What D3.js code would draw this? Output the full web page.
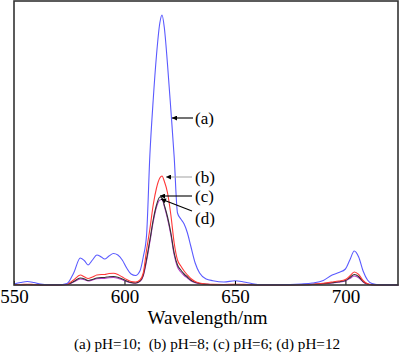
<!DOCTYPE html>
<html><head><meta charset="utf-8">
<script src="https://cdn.jsdelivr.net/npm/d3@7"></script>
<style>
html,body{margin:0;padding:0;background:#fff;}
svg{display:block;font-family:"Liberation Serif","Times New Roman",serif;}
</style></head>
<body>
<svg id="chart" width="400" height="358"></svg>
<script>
const wavelengths = [550,553,556,559,562,566,570,574,577,580,582,583.5,585.5,587.5,589.5,591,593,595,597,599,601,603,605,607,608.5,610,611.5,613,614.5,616,617,618,619.5,621,622.5,624,625.5,627,628.5,630,632,634,637,640,645,650,654,658,662,670,680,685,690,694,697,700,702,704,706,708,710,712,715,720,724];
const seriesA = [1,2.5,3.5,2.5,1,0.3,0.2,1.5,12,27,24,20,25,30,28,26,29,31.5,30,25,17,11,9.5,14,28,50,130,185,230,262,270,258,220,175,128,72,66,61,52,39,22,12,6,4.3,3,4.3,3,1.2,0.3,0.2,1,2,4.5,10,12.5,16,25,34,28,14,5,1.5,0.3,0.1,0];
const seriesB = [0.5,0.5,0.8,0.5,0.2,0.1,0.1,0.8,5,10,8,6.5,8,10,10.5,10.5,11.5,11.7,10.5,8,5.5,3.5,3,5,12,35,56,80,97,107,109,104,92,70,42,25,19,14,10,6.5,3.5,2,1,0.6,0.5,0.8,0.6,0.3,0.1,0.1,0.3,0.8,1.8,3,4,5.5,9,13,10.5,4.5,1.2,0.3,0.1,0,0];
const seriesC = [0.3,0.3,0.5,0.3,0.1,0.05,0.05,0.5,3.5,7,6,4.5,5.5,7,7.5,7.5,8.3,8.5,7.8,6,4,2.5,2,4,10,26,45,65,80,88,87,80,68,52,32,20,15,11,8,5,2.7,1.5,0.8,0.4,0.3,0.5,0.4,0.2,0.05,0.05,0.3,0.6,1.4,2.4,3.2,4.5,7.5,10.5,8.5,3.5,1,0.3,0.05,0,0];
const seriesD = [0.3,0.3,0.4,0.3,0.1,0.05,0.05,0.4,3,6,5.2,4,5,6.2,6.6,6.6,7.3,7.5,6.8,5.2,3.5,2.2,1.8,3.6,9,24,43,63,78,85,85.5,79,66,50,30,18,13,9.5,7,4.3,2.3,1.3,0.7,0.3,0.3,0.4,0.3,0.2,0.05,0.05,0.2,0.5,1.2,2,2.8,4,6.5,9,7.3,3,0.8,0.2,0.05,0,0];
const seriesNames = ["(a)","(b)","(c)","(d)"];
const seriesColors = ["#5a5aff","#ff3838","#333333","#b53ec8"];
const xTicks = [550,600,650,700];
const xLabel = "Wavelength/nm";
const legendText = "(a) pH=10;  (b) pH=8; (c) pH=6; (d) pH=12";

const svg = d3.select("#chart");
const L = 14, R = 398, T = 1, B = 285;
const x = d3.scaleLinear().domain([550, 723.8]).range([L, R]);
const y = d3.scaleLinear().domain([0, 284]).range([B, T]);

const allSeries = [seriesA, seriesB, seriesC, seriesD];
const line = d3.line().x(d => x(d[0])).y(d => y(d[1])).curve(d3.curveMonotoneX);

[3,2,1,0].forEach(i => {
  const pts = wavelengths.map((w, j) => [w, allSeries[i][j]]);
  svg.append("path").attr("d", line(pts)).attr("fill", "none")
     .attr("stroke", seriesColors[i]).attr("stroke-width", 1.1);
});

const ax = svg.append("g").attr("transform", `translate(0,${B})`)
  .call(d3.axisBottom(x).tickValues(xTicks).tickSizeInner(-4).tickSizeOuter(0).tickPadding(4.5).tickFormat(d3.format("d")));
ax.select(".domain").remove();
ax.selectAll(".tick line").attr("stroke", "#000");
ax.selectAll(".tick text").attr("font-size", 19).attr("fill", "#000")
  .attr("font-family", '"Liberation Serif","Times New Roman",serif');

svg.append("rect").attr("x", L).attr("y", T).attr("width", R - L).attr("height", B - T)
  .attr("fill", "none").attr("stroke", "#333").attr("stroke-width", 1.6);

svg.append("text").attr("x", 207.5).attr("y", 324).attr("text-anchor", "middle")
  .attr("font-size", 19).text(xLabel);

svg.append("text").attr("x", 207).attr("y", 349).attr("text-anchor", "middle")
  .attr("font-size", 15.2).attr("xml:space", "preserve").style("white-space", "pre").text(legendText);

const defs = svg.append("defs");
defs.append("marker").attr("id", "arr").attr("viewBox", "0 0 10 10").attr("refX", 10).attr("refY", 5)
  .attr("markerWidth", 7).attr("markerHeight", 5).attr("markerUnits", "userSpaceOnUse").attr("orient", "auto")
  .append("path").attr("d", "M0,0L10,5L0,10Z").attr("fill", "#000");

const annos = [
  {name: seriesNames[0], x1: 193, y1: 118, x2: 172, y2: 118, ty: 124, stroke: "#000"},
  {name: seriesNames[1], x1: 192, y1: 177, x2: 166, y2: 177, ty: 183, stroke: "#aaa"},
  {name: seriesNames[2], x1: 192, y1: 196, x2: 160, y2: 196, ty: 202, stroke: "#000"},
  {name: seriesNames[3], x1: 192, y1: 211, x2: 161, y2: 199, ty: 224, stroke: "#000"}
];
annos.forEach(a => {
  svg.append("line").attr("x1", a.x1).attr("y1", a.y1).attr("x2", a.x2).attr("y2", a.y2)
    .attr("stroke", a.stroke).attr("stroke-width", 1.1).attr("marker-end", "url(#arr)");
  svg.append("text").attr("x", 195).attr("y", a.ty).attr("font-size", 17).text(a.name);
});
</script>
</body></html>
